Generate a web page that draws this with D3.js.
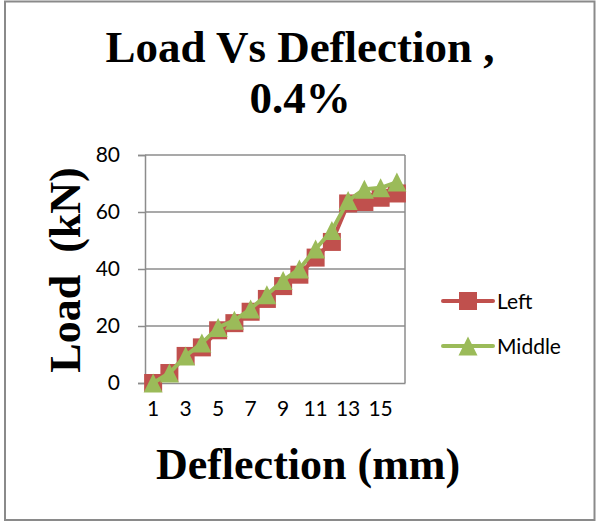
<!DOCTYPE html>
<html>
<head>
<meta charset="utf-8">
<script src="https://cdn.jsdelivr.net/npm/d3@7"></script>
<style>
  html, body { margin: 0; padding: 0; background: #fff; }
  svg { display: block; }
</style>
</head>
<body>
<svg id="chart" width="597" height="522"></svg>
<script>
// Deflection steps (category axis) and measured loads in kN
const deflection = [1, 2, 3, 4, 5, 6, 7, 8, 9, 10, 11, 12, 13, 14, 15, 16];
const leftLoad   = [0, 3.5, 9.5, 12.5, 18.5, 21, 25, 29.5, 34, 38, 44, 49.5, 63, 63.5, 65, 66.5];
const middleLoad = [0, 3.5, 9.5, 14, 19.5, 22, 26, 31, 36, 40, 47, 53.5, 64, 68, 68.5, 70.5];
const yTicks = [0, 20, 40, 60, 80];
const xTickLabels = [1, 3, 5, 7, 9, 11, 13, 15];

const series = [
  { name: "Left",   values: leftLoad,   color: "#C0504D", shape: "square" },
  { name: "Middle", values: middleLoad, color: "#9BBB59", shape: "triangle" }
];

const svg = d3.select("#chart");
const plot = { left: 145, right: 405, top: 155, bottom: 383 };
const serif = "'Liberation Serif', 'Times New Roman', serif";
const sans = "Lato, 'Noto Sans', sans-serif";

// Outer chart frame
svg.append("rect")
  .attr("x", 5).attr("y", 1.5).attr("width", 589.5).attr("height", 518.5)
  .attr("fill", "#fff").attr("stroke", "#8a8a8a").attr("stroke-width", 2);

const x = d3.scaleBand().domain(deflection).range([plot.left, plot.right]).padding(0);
const cx = d => x(d) + x.bandwidth() / 2;
const y = d3.scaleLinear().domain([0, 80]).range([plot.bottom, plot.top]);

// Horizontal gridlines
svg.append("g").selectAll("line").data(yTicks.filter(t => t > 0)).join("line")
  .attr("x1", plot.left).attr("x2", plot.right)
  .attr("y1", d => y(d)).attr("y2", d => y(d))
  .attr("stroke", "#8c8c8c").attr("stroke-width", 1.5);

// Right edge of plot area
svg.append("line")
  .attr("x1", plot.right).attr("x2", plot.right)
  .attr("y1", plot.top).attr("y2", plot.bottom)
  .attr("stroke", "#8c8c8c").attr("stroke-width", 1.5);

// Y axis
const yAxis = svg.append("g")
  .attr("transform", `translate(${plot.left},0)`)
  .call(d3.axisLeft(y).tickValues(yTicks).tickSize(7).tickPadding(18));
yAxis.select(".domain").attr("stroke", "#8c8c8c").attr("stroke-width", 1.5);
yAxis.selectAll(".tick line").attr("stroke", "#8c8c8c").attr("stroke-width", 1.5);
yAxis.selectAll(".tick text")
  .attr("font-family", sans).attr("font-size", 21).attr("fill", "#000");

// X axis
const xAxis = svg.append("g")
  .attr("transform", `translate(0,${plot.bottom})`)
  .call(d3.axisBottom(x).tickValues(xTickLabels).tickSize(0).tickPadding(18));
xAxis.select(".domain").attr("stroke", "#8c8c8c").attr("stroke-width", 1.5);
xAxis.selectAll(".tick text")
  .attr("font-family", sans).attr("font-size", 21).attr("fill", "#000");

// Series lines and markers
const line = d3.line().x((d, i) => cx(deflection[i])).y(d => y(d));
const mSize = 18;
const triPath = s => `M0,${-s / 2}L${s / 2},${s / 2}L${-s / 2},${s / 2}Z`;

function drawMarker(g, shape, color) {
  if (shape === "square") {
    g.append("rect")
      .attr("x", -mSize / 2).attr("y", -mSize / 2)
      .attr("width", mSize).attr("height", mSize)
      .attr("fill", color);
  } else {
    g.append("path").attr("d", triPath(mSize + 1)).attr("fill", color);
  }
}

series.forEach(s => {
  const g = svg.append("g");
  g.append("path")
    .attr("d", line(s.values))
    .attr("fill", "none").attr("stroke", s.color)
    .attr("stroke-width", 4).attr("stroke-linejoin", "round");
  g.selectAll("g.pt").data(s.values).join("g")
    .attr("class", "pt")
    .attr("transform", (d, i) => `translate(${cx(deflection[i])},${y(d)})`)
    .each(function () { drawMarker(d3.select(this), s.shape, s.color); });
});

// Legend
const legend = svg.append("g");
series.forEach((s, i) => {
  const ly = 301 + i * 45;
  const g = legend.append("g").attr("transform", `translate(468,${ly})`);
  g.append("line").attr("x1", -25).attr("x2", 25).attr("y1", 0).attr("y2", 0)
    .attr("stroke", s.color).attr("stroke-width", 4).attr("stroke-linecap", "round");
  drawMarker(g, s.shape, s.color);
  legend.append("text")
    .attr("x", 497).attr("y", ly + 8)
    .attr("font-family", sans).attr("font-size", 21).attr("fill", "#000")
    .text(s.name);
});

// Title
const title = svg.append("text")
  .attr("text-anchor", "middle")
  .attr("font-family", serif).attr("font-size", 45).attr("font-weight", "bold")
  .attr("fill", "#000");
title.append("tspan").attr("x", 300).attr("y", 62).text("Load Vs Deflection ,");
title.append("tspan").attr("x", 300).attr("y", 113).text("0.4%");

// Axis titles
svg.append("text")
  .attr("transform", "translate(80,270) rotate(-90)")
  .attr("text-anchor", "middle")
  .attr("font-family", serif).attr("font-size", 44).attr("font-weight", "bold")
  .attr("fill", "#000")
  .attr("xml:space", "preserve")
  .style("white-space", "pre")
  .text("Load  (kN)");

svg.append("text")
  .attr("x", 308).attr("y", 479)
  .attr("text-anchor", "middle")
  .attr("font-family", serif).attr("font-size", 44).attr("font-weight", "bold")
  .attr("fill", "#000")
  .text("Deflection (mm)");
</script>
</body>
</html>
